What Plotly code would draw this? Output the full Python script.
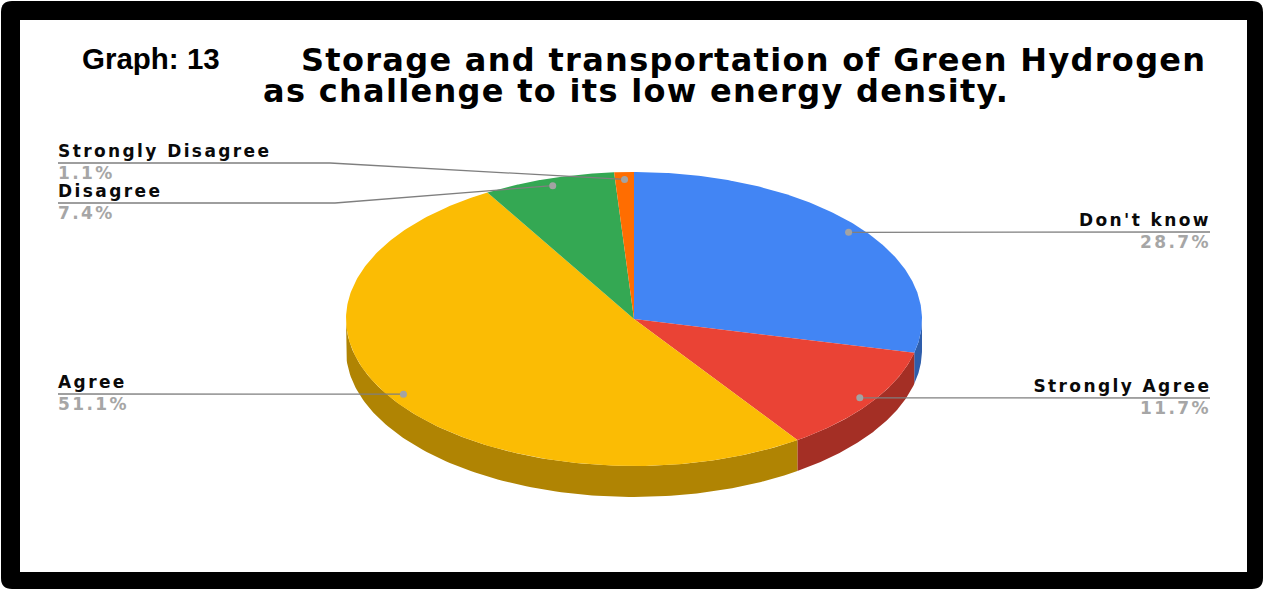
import numpy as np
import plotly.graph_objects as go

categories = ["Don't know", "Strongly Agree", "Agree", "Disagree", "Strongly Disagree"]
values = [28.7, 11.7, 51.1, 7.4, 1.1]
colors = ["#4285f4", "#ea4335", "#fbbc04", "#34a853", "#ff6d01"]
side_colors = ["#2e5dab", "#a42f25", "#b08403", "#247639", "#b34c01"]
title_lines = ["Storage and transportation of Green Hydrogen", "as challenge to its low energy density."]
graph_tag = "Graph: 13"

# layout of the pie in page pixels
CX, CY, RX, RY, DEPTH = 634, 319, 288, 147, 31
LABEL_R = 0.95
LEFT_X, RIGHT_X = 58, 1210
# label anchor: (side, line y, elbow x)
label_pos = {
    "Don't know": ("right", 232, None),
    "Strongly Agree": ("right", 398, None),
    "Agree": ("left", 394, None),
    "Disagree": ("left", 203, 335),
    "Strongly Disagree": ("left", 163, 330),
}

def ex(a, r=1.0):
    return CX + RX * r * np.sin(np.radians(a))

def ey(a, r=1.0):
    return CY - RY * r * np.cos(np.radians(a))

fig = go.Figure()
total = sum(values)
bounds = np.concatenate([[0], np.cumsum(values)]) / total * 360

# side wall
for i, c in enumerate(side_colors):
    a0, a1 = max(bounds[i], 90), min(bounds[i + 1], 270)
    if a1 <= a0:
        continue
    t = np.linspace(a0, a1, 120)
    xs = np.concatenate([ex(t), ex(t[::-1])])
    ys = np.concatenate([ey(t), ey(t[::-1]) + DEPTH])
    fig.add_trace(go.Scatter(x=xs, y=ys, mode="lines", fill="toself", fillcolor=c,
                             line=dict(width=0, color=c), hoverinfo="skip", showlegend=False))
# top face
for i, c in enumerate(colors):
    t = np.linspace(bounds[i], bounds[i + 1], 240)
    xs = np.concatenate([[CX], ex(t), [CX]])
    ys = np.concatenate([[CY], ey(t), [CY]])
    fig.add_trace(go.Scatter(x=xs, y=ys, mode="lines", fill="toself", fillcolor=c,
                             line=dict(width=0, color=c), name=categories[i], showlegend=False))

annotations = []
def text(x, y, s, size, color, anchor="left", family="Liberation Sans"):
    annotations.append(dict(x=x, y=y, xref="x", yref="y", text=s, showarrow=False, xanchor=anchor,
                            align=anchor, yanchor="middle", borderpad=0,
                            font=dict(family=family, size=size, color=color)))

# leaders and labels
for i, name in enumerate(categories):
    mid = (bounds[i] + bounds[i + 1]) / 2
    px, py = ex(mid, LABEL_R), ey(mid, LABEL_R)
    side, ly, elbow = label_pos[name]
    end = RIGHT_X if side == "right" else LEFT_X
    lx = [px] + ([elbow] if elbow else []) + [end]
    lyy = [py] + ([ly] if elbow else []) + [ly]
    fig.add_trace(go.Scatter(x=lx, y=lyy, mode="lines", line=dict(color="#7f7f7f", width=1.3),
                             hoverinfo="skip", showlegend=False))
    fig.add_trace(go.Scatter(x=[px], y=[py], mode="markers", marker=dict(color="#a3a3a3", size=7),
                             hoverinfo="skip", showlegend=False))
    anchor = "right" if side == "right" else "left"
    tx = end + 2 if side == "right" else end - 1
    text(tx, ly - 12, f"<b>{name}</b>", 17, "#0a0a0a", anchor, "DejaVu Sans")
    text(tx, ly + 10, f"<b>{values[i]}%</b>", 17, "#a6a6a6", anchor, "DejaVu Sans")

text(81, 58, f"<b>{graph_tag}</b>", 29.5, "#000000")
text(300, 60, f"<b>{title_lines[0]}</b>", 32, "#000000", family="DejaVu Sans")
text(262, 91, f"<b>{title_lines[1]}</b>", 32, "#000000", family="DejaVu Sans")

frame = ("M 12 1 L 1252 1 Q 1263 1 1263 12 L 1263 578 Q 1263 589 1252 589 "
         "L 12 589 Q 1 589 1 578 L 1 12 Q 1 1 12 1 Z")
fig.update_layout(
    width=1264, height=590, margin=dict(l=0, r=0, t=0, b=0),
    paper_bgcolor="white", plot_bgcolor="white", showlegend=False,
    xaxis=dict(range=[0, 1264], visible=False, fixedrange=True),
    yaxis=dict(range=[590, 0], visible=False, fixedrange=True),
    annotations=annotations,
    shapes=[
        dict(type="path", path=frame, fillcolor="black", line=dict(width=0), layer="below"),
        dict(type="rect", x0=20, y0=20, x1=1247, y1=572, fillcolor="white", line=dict(width=0), layer="below"),
    ],
)
post = """
document.body.style.margin='0';document.body.style.overflow='hidden';
document.querySelectorAll('.annotation-text').forEach(function(el){
  var fs=parseFloat(el.style.fontSize);
  if(fs===17){el.style.letterSpacing='2.4px';}
  if(fs===32){el.style.letterSpacing='1.3px';}
});
"""
fig.write_html("out.html", config={"displayModeBar": False}, post_script=post)
